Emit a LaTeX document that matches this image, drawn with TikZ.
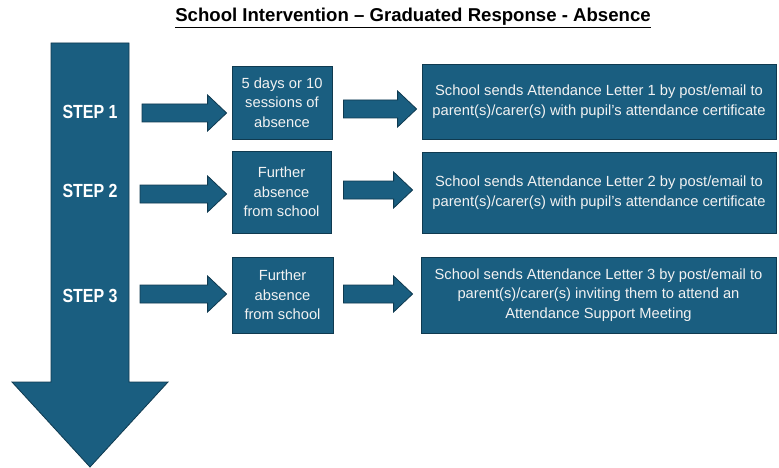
\documentclass[tikz,border=0pt]{standalone}
\usepackage{fontspec}
\setmainfont{Liberation Sans}
\usetikzlibrary{calc}
\definecolor{stepfill}{HTML}{1A5E80}
\definecolor{stepline}{HTML}{0F3A50}
\definecolor{boxtext}{HTML}{F2F2F2}
\tikzset{
  shapestyle/.style={fill=stepfill, draw=stepline, line width=0.8pt},
  infobox/.style={shapestyle, rectangle, inner sep=0pt, align=center, text=boxtext,
    font=\fontsize{14.7}{19.5}\selectfont},
  steplabel/.style={text=white, font=\fontsize{19}{21}\selectfont\bfseries, inner sep=0pt},
  titletext/.style={font=\fontsize{18.6}{21}\selectfont\bfseries, inner sep=0pt}
}
\newcommand\blockarrow[3][5pt]{%
  \draw[shapestyle] let \p1=(#2), \p2=(#3) in
    (\x1,\y1+9pt) -- (\x2-#1-19pt,\y1+9pt) -- (\x2-#1-19pt,\y1+18pt) -- (\x2-#1,\y1)
    -- (\x2-#1-19pt,\y1-18pt) -- (\x2-#1-19pt,\y1-9pt) -- (\x1,\y1-9pt) -- cycle;}
\begin{document}
\begin{tikzpicture}[x=1pt,y=-1pt]
\useasboundingbox[fill=white] (0,0) rectangle (779,468);
% title
\node[titletext] (title) at (413,18) {\underline{School Intervention – Graduated Response - Absence}};
% big downward arrow
\draw[shapestyle] (51,43) -- (129,43) -- (129,382) -- (168,382) -- (90,467) -- (12,382) -- (51,382) -- cycle;
\node[steplabel] (s1) at (90,112) {\scalebox{0.84}[1]{STEP 1}};
\node[steplabel] (s2) at (90,191) {\scalebox{0.84}[1]{STEP 2}};
\node[steplabel] (s3) at (90,296) {\scalebox{0.84}[1]{STEP 3}};
% small boxes
\node[infobox, minimum width=100pt, minimum height=73pt] (b1) at (282,102.5) {5 days or 10\\sessions of\\absence};
\node[infobox, minimum width=99pt, minimum height=82pt] (b2) at (281.5,192) {Further\\absence\\from school};
\node[infobox, minimum width=101pt, minimum height=76pt] (b3) at (282.5,295) {Further\\absence\\from school};
% big boxes
\node[infobox, minimum width=354pt, minimum height=75pt] (l1) at (599,101.5) {School sends Attendance Letter 1 by post/email to\\parent(s)/carer(s) with pupil’s attendance certificate};
\node[infobox, minimum width=354pt, minimum height=81pt] (l2) at (599,192.5) {School sends Attendance Letter 2 by post/email to\\parent(s)/carer(s) with pupil’s attendance certificate};
\node[infobox, minimum width=355pt, minimum height=76pt] (l3) at (598.5,295) {School sends Attendance Letter 3 by post/email to\\parent(s)/carer(s) inviting them to attend an\\Attendance Support Meeting};
% arrow start points
\coordinate (a1) at (142,113);
\coordinate (a2) at (140,194);
\coordinate (a3) at (140,294);
\coordinate (c1) at ($(b1.east)+(11,6.5)$);
\coordinate (c2) at ($(b2.east)+(12,-2)$);
\coordinate (c3) at ($(b3.east)+(10,-1)$);
\blockarrow{a1}{b1.west}
\blockarrow{a2}{b2.west}
\blockarrow{a3}{b3.west}
\blockarrow{c1}{l1.west}
\blockarrow[9pt]{c2}{l2.west}
\blockarrow[8pt]{c3}{l3.west}
\end{tikzpicture}
\end{document}
